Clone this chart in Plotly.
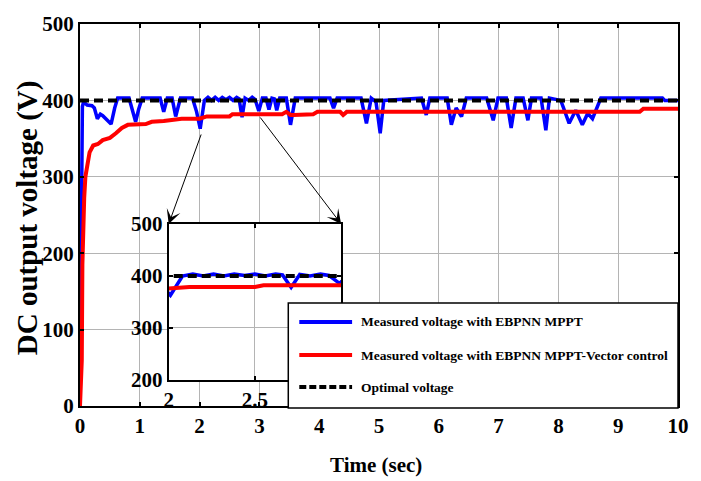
import plotly.graph_objects as go

# Time axis (s) and DC link voltage (V) for the three series
t_blue = [0.00, 0.01, 0.02, 0.03, 0.04, 0.06, 0.12, 0.20, 0.24, 0.29, 0.34, 0.38, 0.43, 0.47, 0.52, 0.58, 0.63,
          0.82, 0.88, 0.93, 0.98, 1.04,
          1.34, 1.40, 1.46,
          1.54, 1.60, 1.68,
          1.88, 1.95, 2.01, 2.05, 2.08,
          2.14, 2.20, 2.26, 2.32, 2.38, 2.44, 2.50, 2.56, 2.62,
          2.66, 2.71, 2.76,
          2.82, 2.88, 2.93, 2.99, 3.05,
          3.11, 3.16, 3.21, 3.25, 3.29, 3.34,
          3.45, 3.52, 3.60,
          4.18, 4.24, 4.30,
          4.70, 4.79, 4.87, 4.95, 5.02, 5.08,
          5.71, 5.79, 5.85,
          6.14, 6.21, 6.29, 6.38, 6.46,
          6.80, 6.91, 6.99,
          7.13, 7.21, 7.29,
          7.41, 7.49, 7.55,
          7.71, 7.79, 7.85,
          8.04, 8.18, 8.29, 8.40, 8.49, 8.57, 8.71,
          9.74, 9.78, 10.00]
v_blue = [0, 60, 210, 360, 392, 398, 394, 393, 390, 376, 382, 380, 376, 374, 369, 390, 403,
          403, 385, 372, 388, 403,
          403, 385, 403,
          403, 379, 403,
          403, 385, 363, 385, 400,
          404, 400, 404, 400, 404, 401, 404, 400, 404,
          402, 378, 403,
          400, 404, 401, 386, 403,
          403, 388, 403, 402, 387, 403,
          403, 368, 403,
          403, 390, 403,
          403, 370, 403, 398, 357, 400,
          403, 381, 403,
          403, 368, 390, 379, 403,
          403, 374, 403,
          403, 364, 403,
          403, 374, 403,
          403, 361, 403,
          400, 370, 387, 368, 383, 376, 403,
          403, 400, 400]

t_red = [0.00, 0.01, 0.02, 0.03, 0.04, 0.05, 0.07, 0.09, 0.12, 0.16, 0.22, 0.30, 0.38, 0.50, 0.60, 0.70,
         0.80, 1.10, 1.20, 1.40, 1.70, 2.00, 2.12, 2.50, 2.55, 3.38, 3.45, 3.52, 3.57, 3.90, 3.97,
         4.35, 4.40, 4.46, 9.36, 9.42, 10.00]
v_red = [0, 20, 45, 60, 185, 250, 272, 300, 318, 332, 341, 343, 348, 351, 357, 364,
         368, 369, 372, 373, 376, 376, 379, 379, 382, 382, 385, 381, 381, 382, 385,
         385, 381, 385, 385, 389, 389]

t_opt = [0.0, 10.0]
v_opt = [400, 400]

series_names = ["Measured voltage with EBPNN MPPT",
                "Measured voltage with EBPNN MPPT-Vector control",
                "Optimal voltage"]

x_ticks = [0, 1, 2, 3, 4, 5, 6, 7, 8, 9, 10]
y_ticks = [0, 100, 200, 300, 400, 500]
zoom_x_ticks = [2, 2.5, 3]
zoom_x_labels = ["2", "2.5", "3"]
zoom_y_ticks = [200, 300, 400, 500]

BLUE = "#0000ff"
RED = "#ff0000"
SERIF = "Liberation Serif"

fig = go.Figure()

for xa, ya in (("x", "y"), ("x2", "y2")):
    fig.add_trace(go.Scatter(x=t_blue, y=v_blue, mode="lines", xaxis=xa, yaxis=ya,
                             line=dict(color=BLUE, width=3.5), showlegend=False))
    fig.add_trace(go.Scatter(x=t_red, y=v_red, mode="lines", xaxis=xa, yaxis=ya,
                             line=dict(color=RED, width=4), showlegend=False))
    fig.add_trace(go.Scatter(x=t_opt, y=v_opt, mode="lines", xaxis=xa, yaxis=ya,
                             line=dict(color="black", width=4, dash="9px,5px"), showlegend=False))

tick_font = dict(family=SERIF, size=21, color="black", weight="bold")
axis_common = dict(showline=True, linecolor="black", linewidth=2, mirror="ticks",
                   ticks="inside", ticklen=4, tickcolor="black", tickwidth=1.5,
                   showgrid=True, gridcolor="#b4b4b4", gridwidth=1,
                   zeroline=False, tickfont=tick_font)

fig.update_layout(
    width=701, height=481,
    margin=dict(l=80, r=21, t=24, b=75),
    paper_bgcolor="white", plot_bgcolor="white",
    showlegend=False,
    xaxis=dict(range=[0, 10], tickvals=x_ticks, **axis_common),
    yaxis=dict(range=[0, 500], tickvals=y_ticks, **axis_common),
    xaxis2=dict(domain=[0.1483, 0.4367], anchor="y2", range=[2, 3],
                tickvals=zoom_x_ticks, ticktext=zoom_x_labels, **axis_common),
    yaxis2=dict(domain=[0.0681, 0.4764], anchor="x2", range=[200, 500],
                tickvals=zoom_y_ticks, **axis_common),
)

# White backing for the zoomed panel so the main curves do not show through
fig.add_shape(type="rect", xref="x2 domain", yref="y2 domain", x0=0, x1=1, y0=0, y1=1,
              fillcolor="white", line=dict(width=0), layer="below")

# Legend box drawn on top of both panels
fig.add_shape(type="rect", xref="paper", yref="paper", x0=0.3483, x1=1.0, y0=-0.005, y1=0.2696,
              fillcolor="white", line=dict(color="black", width=1.5), layer="above")
legend_rows = [0.2199, 0.1335, 0.0497]
legend_styles = [dict(color=BLUE, width=4), dict(color=RED, width=4),
                 dict(color="black", width=4, dash="7px,3px")]
for name, yrow, style in zip(series_names, legend_rows, legend_styles):
    fig.add_shape(type="line", xref="paper", yref="paper", x0=0.3667, x1=0.455, y0=yrow, y1=yrow,
                  line=style, layer="above")
    fig.add_annotation(xref="paper", yref="paper", x=0.4667, y=yrow, text=name, showarrow=False,
                       xanchor="left", yanchor="middle",
                       font=dict(family=SERIF, size=13.5, color="black", weight="bold"))

# Arrows from the magnified interval to the corners of the zoom panel
fig.add_annotation(xref="x2", yref="y2", x=2, y=500, ax=33, ay=-91, axref="pixel", ayref="pixel",
                   showarrow=True, arrowhead=3, arrowsize=2.4, arrowwidth=1, arrowcolor="black", text="")
fig.add_annotation(xref="x2", yref="y2", x=3, y=500, ax=-82, ay=-108, axref="pixel", ayref="pixel",
                   showarrow=True, arrowhead=3, arrowsize=2.4, arrowwidth=1, arrowcolor="black", text="")

# Axis titles
fig.add_annotation(xref="paper", yref="paper", x=0.495, y=-0.1545, text="Time (sec)", showarrow=False,
                   xanchor="center", yanchor="middle",
                   font=dict(family=SERIF, size=21, color="black", weight="bold"))
fig.add_annotation(xref="paper", yref="paper", x=-0.0883, y=0.492, text="DC output voltage (V)",
                   showarrow=False, textangle=-90, xanchor="center", yanchor="middle",
                   font=dict(family=SERIF, size=29, color="black", weight="bold"))

fig.write_html("out.html")
